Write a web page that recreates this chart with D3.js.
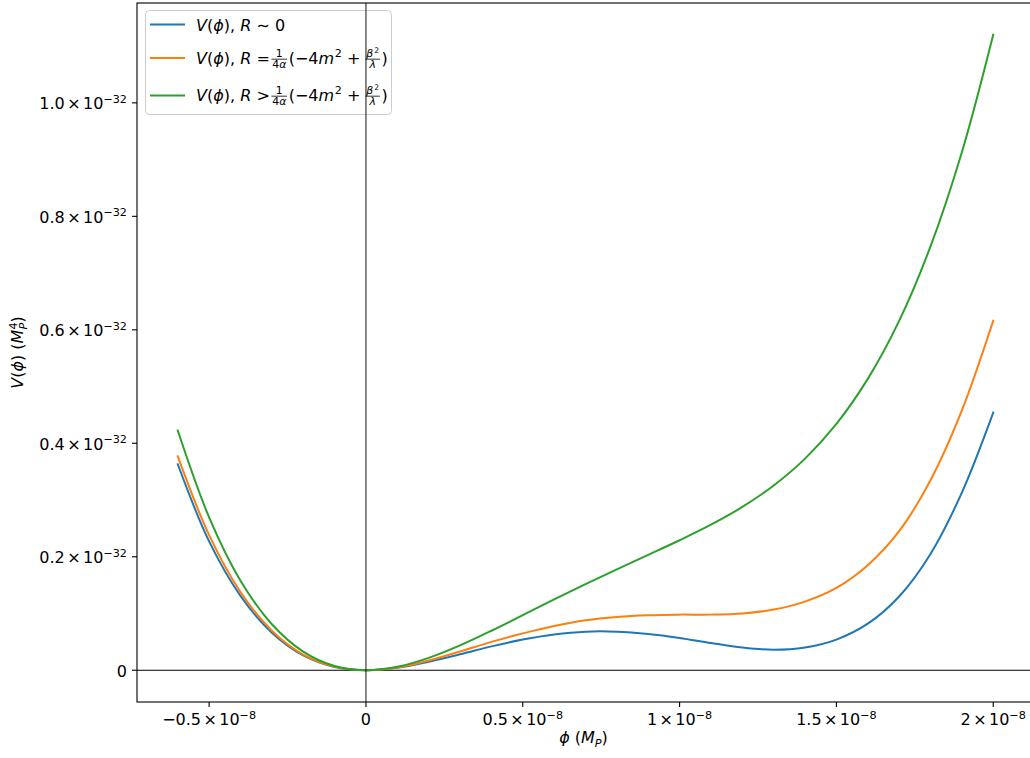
<!DOCTYPE html>
<html>
<head>
<meta charset="utf-8">
<script src="https://cdn.jsdelivr.net/npm/d3@7"></script>
<style>
  html, body { margin: 0; padding: 0; background: #fff; }
  svg { display: block; font-family: "DejaVu Sans", sans-serif; }
  svg text { white-space: pre; }
</style>
</head>
<body>
<svg id="chart" width="1030" height="758"></svg>
<script>
// ---- data (phi in units of 1e-8 M_P, V in units of 1e-32 M_P^4) ----
const phi   = [-0.6, -0.5, -0.4, -0.3, -0.2, -0.1, 0.0, 0.1, 0.2, 0.3, 0.4, 0.5, 0.6, 0.7, 0.8, 0.9, 1.0, 1.1, 1.2, 1.3, 1.4, 1.5, 1.6, 1.7, 1.8, 1.9, 2.0];
const vR0   = [0.363, 0.227, 0.131, 0.066, 0.026, 0.0057, 0, 0.0043, 0.015, 0.028, 0.042, 0.054, 0.063, 0.068, 0.068, 0.064, 0.057, 0.048, 0.040, 0.036, 0.040, 0.054, 0.082, 0.130, 0.205, 0.313, 0.454];
const vRc   = [0.377, 0.238, 0.1376, 0.0697, 0.0277, 0.0063, 0, 0.0048, 0.017, 0.033, 0.050, 0.065, 0.078, 0.088, 0.094, 0.097, 0.098, 0.098, 0.100, 0.107, 0.121, 0.145, 0.185, 0.245, 0.335, 0.458, 0.616];
const vRgt  = [0.4225, 0.2694, 0.1578, 0.0810, 0.0328, 0.0074, 0, 0.0060, 0.0218, 0.0438, 0.0696, 0.0972, 0.1249, 0.1519, 0.1779, 0.2034, 0.2291, 0.2565, 0.2878, 0.3256, 0.3730, 0.4342, 0.5135, 0.6157, 0.7469, 0.9129, 1.12];
const seriesColors = ["#1f77b4", "#ff7f0e", "#2ca02c"];
const xTicks = [-0.5, 0, 0.5, 1, 1.5, 2];
const xTickLabels = ["−0.5", "0", "0.5", "1", "1.5", "2"];
const xExp = "−8";
const yTicks = [0, 0.2, 0.4, 0.6, 0.8, 1.0];
const yTickLabels = ["0", "0.2", "0.4", "0.6", "0.8", "1.0"];
const yExp = "−32";

// ---- layout ----
const L = 137, T = 3, R = 1034, B = 702;
const FS = 16;
const svg = d3.select("#chart");
const x = d3.scaleLinear().domain([-0.73, 2.13]).range([L, R]);
const y = d3.scaleLinear().domain([-0.056, 1.176]).range([B, T]);

// math-like text layout helper
function mathText(g, items, x0, y0, size) {
  let cx = x0;
  for (const it of items) {
    if (it.t !== undefined) {
      const el = g.append("text").attr("x", cx).attr("y", y0)
        .attr("font-size", size)
        .attr("font-style", it.i ? "italic" : "normal")
        .attr("fill", "#000")
        .text(it.t);
      cx += el.node().getComputedTextLength() + (it.sp || 0) * size;
    } else if (it.sup || it.sub) {
      let w = 0;
      if (it.sup) w = Math.max(w, mathText(g, it.sup, cx, y0 - size * 0.4, size * 0.7));
      if (it.sub) w = Math.max(w, mathText(g, it.sub, cx, y0 + size * 0.22, size * 0.7));
      cx += w;
    } else if (it.frac) {
      const s = size * 0.68;
      const tmp = g.append("g");
      const wn = mathText(tmp, it.frac[0], 0, 0, s);
      const wd = mathText(tmp, it.frac[1], 0, 0, s);
      tmp.remove();
      const w = Math.max(wn, wd) + size * 0.2;
      const bar = y0 - size * 0.27;
      mathText(g, it.frac[0], cx + (w - wn) / 2, bar - size * 0.12, s);
      mathText(g, it.frac[1], cx + (w - wd) / 2, bar + size * 0.07 + s * 0.73, s);
      g.append("line").attr("x1", cx + size * 0.05).attr("x2", cx + w - size * 0.05)
        .attr("y1", bar).attr("y2", bar).attr("stroke", "#000").attr("stroke-width", 0.8);
      cx += w + size * 0.05;
    }
  }
  return cx - x0;
}
function measure(items, size) {
  const tmp = svg.append("g").attr("visibility", "hidden");
  const w = mathText(tmp, items, 0, 0, size);
  tmp.remove();
  return w;
}
function tickItems(lbl, exp) {
  if (lbl === "0") return [{ t: "0" }];
  return [{ t: lbl, sp: 0.15 }, { t: "×", sp: 0.15 }, { t: "10" }, { sup: [{ t: exp }] }];
}

// ---- reference line y=0 ----
svg.append("line").attr("x1", L).attr("x2", R).attr("y1", y(0)).attr("y2", y(0))
  .attr("stroke", "#000").attr("stroke-width", 1.1);

// ---- series ----
const series = [vR0, vRc, vRgt];
const line = d3.line().x((d, i) => x(phi[i])).y(d => y(d)).curve(d3.curveCatmullRom.alpha(0.5));
series.forEach((vals, k) => {
  svg.append("path").datum(vals).attr("d", line)
    .attr("fill", "none").attr("stroke", seriesColors[k]).attr("stroke-width", 2)
    .attr("stroke-linejoin", "round").attr("stroke-linecap", "square");
});

// ---- frame ----
svg.append("rect").attr("x", L).attr("y", T).attr("width", R - L).attr("height", B - T)
  .attr("fill", "none").attr("stroke", "#000").attr("stroke-width", 1.1);

// ---- x ticks ----
const gx = svg.append("g");
xTicks.forEach((v, i) => {
  const px = x(v);
  gx.append("line").attr("x1", px).attr("x2", px).attr("y1", B).attr("y2", B + 5)
    .attr("stroke", "#000").attr("stroke-width", 1.1);
  const items = tickItems(xTickLabels[i], xExp);
  const w = measure(items, FS);
  mathText(gx, items, px - w / 2, 725, FS);
});

// ---- y ticks ----
const gy = svg.append("g");
yTicks.forEach((v, i) => {
  const py = y(v);
  gy.append("line").attr("x1", L - 5).attr("x2", L).attr("y1", py).attr("y2", py)
    .attr("stroke", "#000").attr("stroke-width", 1.1);
  const items = tickItems(yTickLabels[i], yExp);
  const w = measure(items, FS);
  mathText(gy, items, L - 10 - w, py + 6.5, FS);
});

// ---- axis titles ----
const xTitle = [{ t: "ϕ", i: true }, { t: " (" }, { t: "M", i: true }, { sub: [{ t: "P", i: true }] }, { t: ")" }];
const wxt = measure(xTitle, FS);
mathText(svg.append("g"), xTitle, (L + R) / 2 - wxt / 2 - 2, 743, FS);

const yTitle = [{ t: "V", i: true }, { t: "(" }, { t: "ϕ", i: true }, { t: ") (" }, { t: "M", i: true },
  { sup: [{ t: "4" }], sub: [{ t: "P", i: true }] }, { t: ")" }];
const wyt = measure(yTitle, FS);
const gyt = svg.append("g").attr("transform", `translate(23, ${(T + B) / 2}) rotate(-90)`);
mathText(gyt, yTitle, -wyt / 2, 0, FS);

// ---- legend ----
const legendLabels = [
  [{ t: "V", i: true }, { t: "(" }, { t: "ϕ", i: true }, { t: "), " }, { t: "R", i: true }, { t: " ∼ 0" }],
  [{ t: "V", i: true }, { t: "(" }, { t: "ϕ", i: true }, { t: "), " }, { t: "R", i: true }, { t: " =", sp: 0.05 },
    { frac: [[{ t: "1" }], [{ t: "4" }, { t: "α", i: true }]] },
    { t: "(−4" }, { t: "m", i: true, sp: 0.04 }, { sup: [{ t: "2" }] }, { t: " + ", sp: -0.05 },
    { frac: [[{ t: "β", i: true, sp: 0.1 }, { sup: [{ t: "2" }] }], [{ t: "λ", i: true }]] }, { t: ")" }],
  [{ t: "V", i: true }, { t: "(" }, { t: "ϕ", i: true }, { t: "), " }, { t: "R", i: true }, { t: " >", sp: 0.05 },
    { frac: [[{ t: "1" }], [{ t: "4" }, { t: "α", i: true }]] },
    { t: "(−4" }, { t: "m", i: true, sp: 0.04 }, { sup: [{ t: "2" }] }, { t: " + ", sp: -0.05 },
    { frac: [[{ t: "β", i: true, sp: 0.1 }, { sup: [{ t: "2" }] }], [{ t: "λ", i: true }]] }, { t: ")" }]
];
const legRowY = [24.5, 58, 95.5];
const legBase = [31, 63.5, 100.5];
const gl = svg.append("g");
gl.append("rect").attr("x", 145.5).attr("y", 10.5).attr("width", 246).attr("height", 104).attr("rx", 4)
  .attr("fill", "#fff").attr("fill-opacity", 0.8).attr("stroke", "#cccccc").attr("stroke-width", 1);
legendLabels.forEach((items, k) => {
  gl.append("line").attr("x1", 150).attr("x2", 185).attr("y1", legRowY[k]).attr("y2", legRowY[k])
    .attr("stroke", seriesColors[k]).attr("stroke-width", 2);
  mathText(gl, items, 196, legBase[k], FS);
});

// vertical reference line x=0 (drawn on top)
svg.append("line").attr("x1", x(0)).attr("x2", x(0)).attr("y1", T).attr("y2", B)
  .attr("stroke", "#000").attr("stroke-width", 1.1).attr("stroke-opacity", 0.85);
</script>
</body>
</html>
